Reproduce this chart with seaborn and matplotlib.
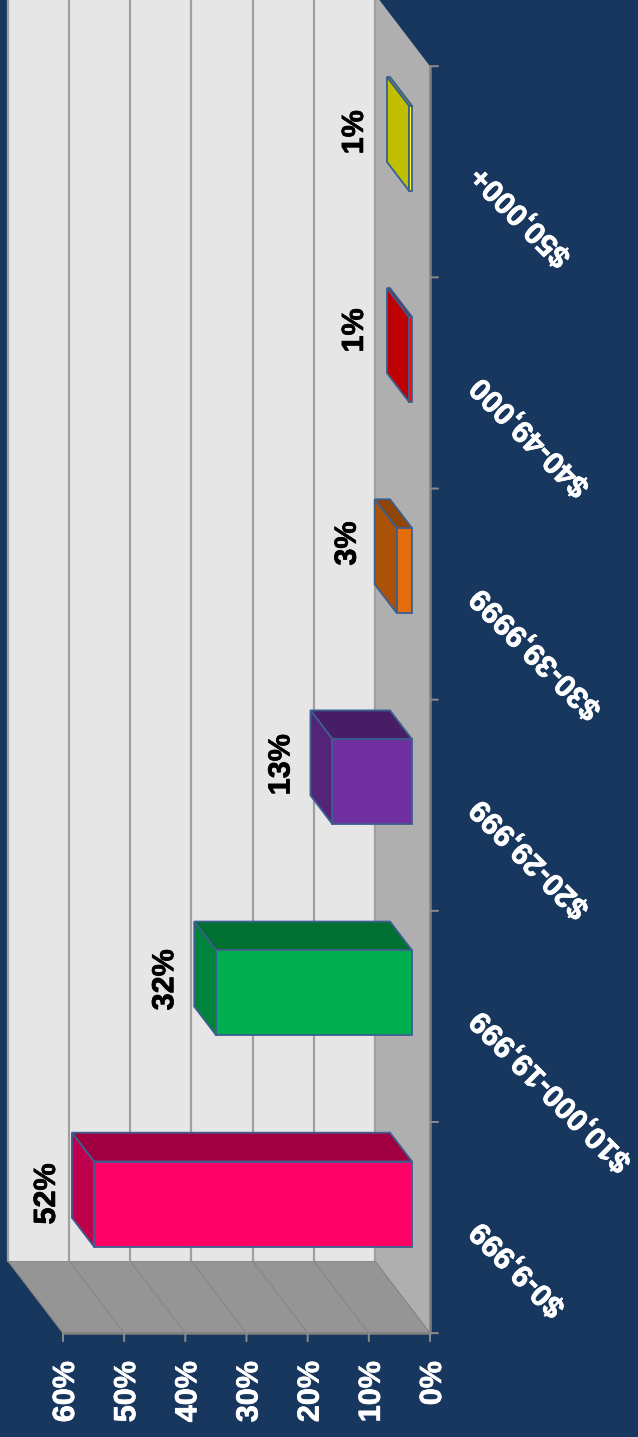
import pandas as pd
import seaborn as sns
import matplotlib.pyplot as plt
import matplotlib.patheffects as pe
from matplotlib.colors import to_rgb
from matplotlib.patches import Polygon

# income bands, bottom to top on the picture
categories = ['$0-9,999', '$10,000-19,999', '$20-29,999', '$30-39,9999', '$40-49,000', '$50,000+']
shares = [52, 32, 13, 2.5, 0.5, 0.5]
share_labels = ['52%', '32%', '13%', '3%', '1%', '1%']
bar_colors = ['#FF0066', '#00B050', '#7030A0', '#E46C0A', '#FF0000', '#FFFF00']
axis_ticks = [0, 10, 20, 30, 40, 50, 60]

NAVY = '#18375F'
EDGE = '#3B5F8F'
PX_PER_PCT = 6.117
PX_PER_CAT = 211.15
DEPTH_X = 55 / PX_PER_PCT
DEPTH_Y = 72 / PX_PER_CAT
BAR_DEPTH = 0.327      # depth of the bar fronts, 0 = front edge, 1 = back wall
BAR_WIDTH = 85 / PX_PER_CAT
LABEL_NUDGE_X = [-47, -51, -51, -49, -54, -54]
LABEL_NUDGE_Y = [10, 13, 17, 27, 29, 16]
BOLDER = [pe.withStroke(linewidth=0.5, foreground='white')]
BOLDER_BLACK = [pe.withStroke(linewidth=0.5, foreground='black')]


def project(value, cat, depth):
    """Fake 3D: slide a point on the value/category plane back by depth."""
    return (value + (depth - BAR_DEPTH) * DEPTH_X, cat + (depth - BAR_DEPTH) * DEPTH_Y)


def shade(color, factor):
    return tuple(c * factor for c in to_rgb(color))


def draw_walls(ax):
    first, last = -0.5, len(categories) - 0.5
    top = axis_ticks[-1]
    back = [project(0, first, 1), project(top, first, 1), project(top, last + 1, 1), project(0, last + 1, 1)]
    side = [project(0, first, 0), project(0, first, 1), project(0, last, 1), project(0, last, 0)]
    base = [project(0, first, 0), project(top, first, 0), project(top, first, 1), project(0, first, 1)]
    ax.add_patch(Polygon(back, facecolor='#E6E6E6', edgecolor='none', zorder=0.2))
    ax.add_patch(Polygon(side, facecolor='#AFAFAF', edgecolor='none', zorder=0.2))
    ax.add_patch(Polygon(base, facecolor='#959595', edgecolor='none', zorder=0.2))

    for tick in axis_ticks:
        xs, ys = zip(project(tick, first, 1), project(tick, last, 1))
        ax.plot(xs, ys, color='#A0A0A0', lw=1.6, zorder=0.3)
        xs, ys = zip(project(tick, first, 0), project(tick, first, 1))
        ax.plot(xs, ys, color='#858585', lw=0.8, zorder=0.3)
        # tick mark below the front edge
        x0, y0 = project(tick, first, 0)
        ax.annotate('', xy=(x0, y0), xytext=(0, -8), textcoords='offset pixels',
                    arrowprops=dict(arrowstyle='-', color='#8C8C8C', lw=1.4, shrinkA=0, shrinkB=0))
        ax.annotate(f'{tick}%', (x0, y0), xytext=(3, -28), textcoords='offset pixels',
                    rotation=90, rotation_mode='anchor', ha='right', va='center',
                    color='white', fontweight='bold', fontsize=22, path_effects=BOLDER)

    # front edges of the box
    xs, ys = zip(project(0, first, 0), project(top, first, 0))
    ax.plot(xs, ys, color='#808080', lw=1.8, zorder=0.4)
    xs, ys = zip(project(0, first, 0), project(0, last, 0))
    ax.plot(xs, ys, color='#808080', lw=1.8, zorder=0.4)

    for i in range(len(categories) + 1):
        x0, y0 = project(0, first + i, 0)
        ax.annotate('', xy=(x0, y0), xytext=(8, 0), textcoords='offset pixels',
                    arrowprops=dict(arrowstyle='-', color='#8C8C8C', lw=1.4, shrinkA=0, shrinkB=0))


def draw_bar_sides(ax):
    back = BAR_DEPTH + 0.4
    for i, (val, color) in enumerate(zip(shares, bar_colors)):
        low, high = i - BAR_WIDTH / 2, i + BAR_WIDTH / 2
        upper = [project(0, high, BAR_DEPTH), project(val, high, BAR_DEPTH),
                 project(val, high, back), project(0, high, back)]
        end = [project(val, low, BAR_DEPTH), project(val, high, BAR_DEPTH),
               project(val, high, back), project(val, low, back)]
        ax.add_patch(Polygon(upper, facecolor=shade(color, 0.63), edgecolor=EDGE, lw=1.3, zorder=3))
        ax.add_patch(Polygon(end, facecolor=shade(color, 0.75), edgecolor=EDGE, lw=1.3, zorder=3))


def main():
    sns.set_style('white')
    plt.rcParams['font.family'] = ['Liberation Sans', 'DejaVu Sans']

    df = pd.DataFrame({'band': categories, 'share': shares})

    fig = plt.figure(figsize=(6.38, 14.37), dpi=100, facecolor=NAVY)
    ax = fig.add_axes([0, 0, 1, 1])
    sns.barplot(data=df, x='share', y='band', hue='band', order=categories, hue_order=categories,
                palette=bar_colors, orient='h', width=BAR_WIDTH, saturation=1, legend=False,
                edgecolor=EDGE, linewidth=1.3, ax=ax, zorder=4)

    # one full-figure axes, value axis runs right to left
    ax.set_xlim(412 / PX_PER_PCT, -226 / PX_PER_PCT)
    ax.set_ylim(-233 / PX_PER_CAT, 1204 / PX_PER_CAT)
    ax.axis('off')

    draw_walls(ax)
    draw_bar_sides(ax)

    for i, (val, label) in enumerate(zip(shares, share_labels)):
        ax.annotate(label, (val, i), xytext=(LABEL_NUDGE_X[i], LABEL_NUDGE_Y[i]), textcoords='offset pixels',
                    rotation=90, ha='center', va='center', color='black',
                    fontweight='bold', fontsize=22, zorder=5, path_effects=BOLDER_BLACK)

    for i, band in enumerate(categories):
        x0, y0 = project(0, i, 0)
        ax.annotate(band, (x0, y0), xytext=(46, 1), textcoords='offset pixels',
                    rotation=135, rotation_mode='anchor', ha='right', va='center',
                    color='white', fontweight='bold', fontsize=22, path_effects=BOLDER)

    fig.savefig('out.png', dpi=100, facecolor=NAVY)


if __name__ == '__main__':
    main()
